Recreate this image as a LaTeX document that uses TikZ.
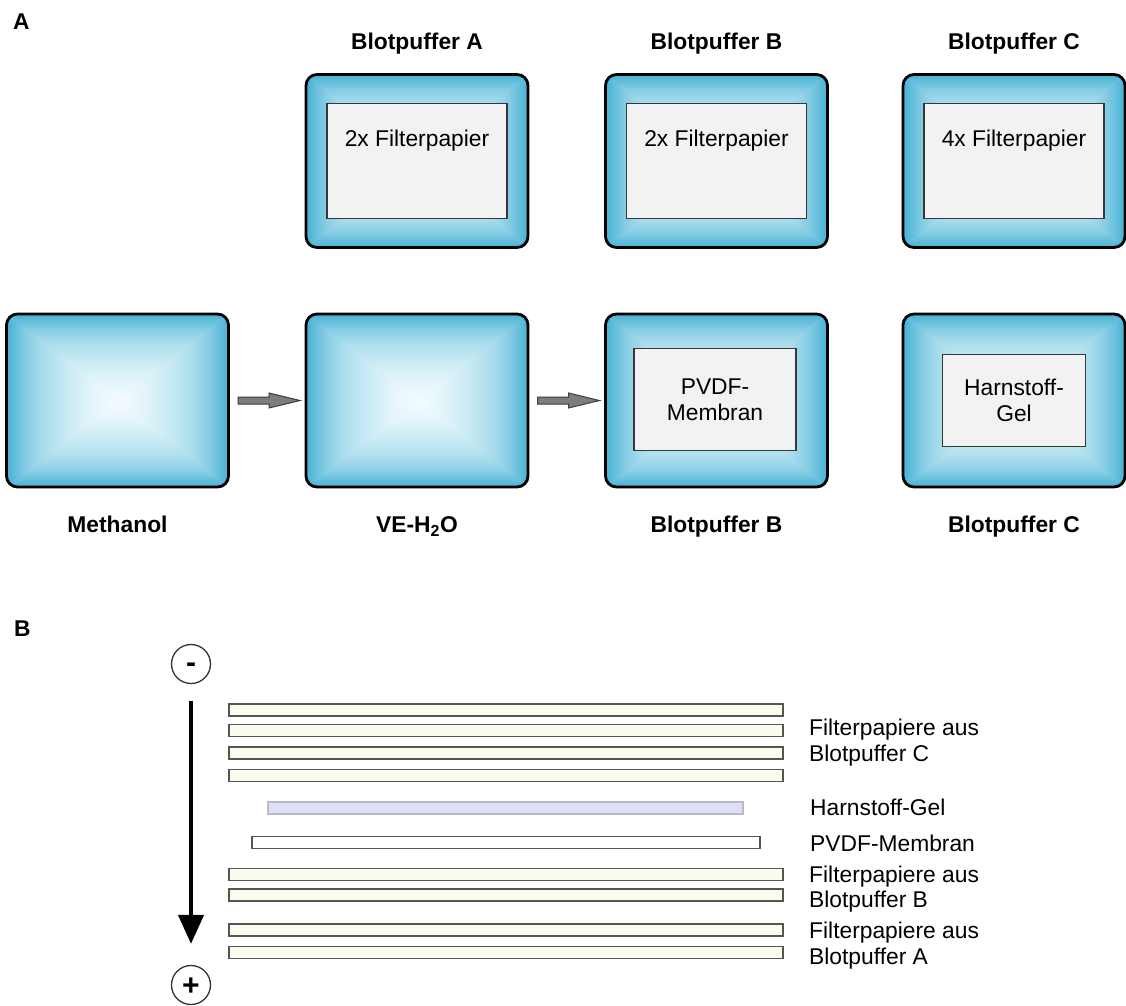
\documentclass[tikz,border=0pt]{standalone}
\usepackage{fontspec}
\setmainfont{Liberation Sans}
\usetikzlibrary{arrows.meta,calc}
\definecolor{trayedge}{RGB}{70,178,211}
\definecolor{trayA}{RGB}{100,190,220}
\definecolor{trayB}{RGB}{135,205,228}
\definecolor{trayC}{RGB}{168,220,236}
\definecolor{trayD}{RGB}{195,232,243}
\definecolor{trayE}{RGB}{225,244,250}
\definecolor{traycenter}{RGB}{247,252,254}
\definecolor{innerfill}{RGB}{242,242,242}
\definecolor{innerline}{RGB}{55,55,55}
\definecolor{arrowfill}{RGB}{125,125,125}
\definecolor{arrowline}{RGB}{60,60,60}
\definecolor{barfill}{RGB}{252,252,238}
\definecolor{barline}{RGB}{85,85,85}
\definecolor{gelfill}{RGB}{221,224,248}
\definecolor{gelline}{RGB}{185,185,200}
\definecolor{circline}{RGB}{50,50,50}
% outer side of the tray = edge colour, middle of the tray = centre colour
\pgfdeclareverticalshading{traytop}{100bp}{color(0bp)=(traycenter); color(25bp)=(traycenter); color(37.5bp)=(trayE); color(50bp)=(trayD); color(59bp)=(trayC); color(66bp)=(trayB); color(71bp)=(trayA); color(75bp)=(trayedge); color(100bp)=(trayedge)}
\pgfdeclareverticalshading{traybot}{100bp}{color(0bp)=(trayedge); color(25bp)=(trayedge); color(29bp)=(trayA); color(34bp)=(trayB); color(41bp)=(trayC); color(50bp)=(trayD); color(62.5bp)=(trayE); color(75bp)=(traycenter); color(100bp)=(traycenter)}
\pgfdeclarehorizontalshading{trayleft}{100bp}{color(0bp)=(trayedge); color(25bp)=(trayedge); color(29bp)=(trayA); color(34bp)=(trayB); color(41bp)=(trayC); color(50bp)=(trayD); color(62.5bp)=(trayE); color(75bp)=(traycenter); color(100bp)=(traycenter)}
\pgfdeclarehorizontalshading{trayright}{100bp}{color(0bp)=(traycenter); color(25bp)=(traycenter); color(37.5bp)=(trayE); color(50bp)=(trayD); color(59bp)=(trayC); color(66bp)=(trayB); color(71bp)=(trayA); color(75bp)=(trayedge); color(100bp)=(trayedge)}
% pyramid-shaded tray drawn on the area of node #1
\newcommand{\trayfill}[1]{%
  \begin{scope}
    \clip[rounded corners=11pt] (#1.north west) rectangle (#1.south east);
    \fill[trayC] (#1.north west) rectangle (#1.south east);
    \shade[shading=traytop] (#1.north west) -- (#1.north east) -- (#1.center) -- cycle;
    \shade[shading=traybot] (#1.south west) -- (#1.south east) -- (#1.center) -- cycle;
    \shade[shading=trayleft] (#1.north west) -- (#1.south west) -- (#1.center) -- cycle;
    \shade[shading=trayright] (#1.north east) -- (#1.south east) -- (#1.center) -- cycle;
  \end{scope}
  \draw[trayborder] (#1.north west) rectangle (#1.south east);}
\newcommand{\blockarrow}[2]{%
  \coordinate (#1s) at ($(#1.east)+(9.5,0)$);
  \coordinate (#2e) at ($(#2.west)+(-6,0)$);
  \filldraw[grayarrow] ($(#1s)+(0,-3.5)$) -- ($(#2e)+(-31,-3.5)$) -- ($(#2e)+(-31,-7.5)$) -- (#2e) -- ($(#2e)+(-31,7.5)$) -- ($(#2e)+(-31,3.5)$) -- ($(#1s)+(0,3.5)$) -- cycle;}
\begin{document}
\begin{tikzpicture}[x=1pt,y=-1pt,
  every node/.style={font=\fontsize{22.8}{26}\selectfont},
  tray/.style={minimum width=222pt, minimum height=173pt, inner sep=0pt, outer sep=0pt},
  trayborder/.style={draw=black, line width=2.8pt, rounded corners=11pt},
  inner/.style={draw=innerline, fill=innerfill, line width=1.4pt, inner sep=0pt, align=center},
  lbl/.style={anchor=base, inner sep=0pt},
  blbl/.style={anchor=base, inner sep=0pt, font=\fontsize{22.8}{26}\selectfont\bfseries},
  grayarrow/.style={fill=arrowfill, draw=arrowline, line width=1pt, line join=miter},
  bar/.style={draw=barline, fill=barfill, line width=1.4pt, minimum height=12pt, inner sep=0pt},
  gelbar/.style={draw=gelline, fill=gelfill, line width=1.4pt, minimum height=12pt, inner sep=0pt},
  membar/.style={draw=barline, fill=white, line width=1.4pt, minimum height=12pt, inner sep=0pt},
  pm/.style={circle, draw=circline, line width=1.3pt, minimum size=39pt, inner sep=0pt, font=\fontsize{30}{30}\selectfont\bfseries},
  side/.style={anchor=base west, inner sep=0pt}
]
\useasboundingbox (0,0) rectangle (1126,1005);

% ---------- Part A ----------
\node[blbl, anchor=base west] (labA) at (13,29.5) {A};

% top row
\node[tray] (ta) at (417,161) {};
\node[tray] (tb) at (716.5,161) {};
\node[tray] (tc) at (1014,161) {};
\trayfill{ta}
\trayfill{tb}
\trayfill{tc}
\node[inner, minimum width=180pt, minimum height=115pt] (ia) at (ta.center) {};
\node[inner, minimum width=180pt, minimum height=115pt] (ib) at (tb.center) {};
\node[inner, minimum width=180pt, minimum height=115pt] (ic) at (tc.center) {};
\node[lbl] (fa) at ($(ia.north)+(0,44)$) {2x Filterpapier};
\node[lbl] (fb) at ($(ib.north)+(0,44)$) {2x Filterpapier};
\node[lbl] (fc) at ($(ic.north)+(0,44)$) {4x Filterpapier};
\node[blbl] (la) at ($(ta.north)+(0,-25.5)$) {Blotpuffer A};
\node[blbl] (lb) at ($(tb.north)+(0,-25.5)$) {Blotpuffer B};
\node[blbl] (lc) at ($(tc.north)+(0,-25.5)$) {Blotpuffer C};

% bottom row
\node[tray] (t1) at (117.5,400.5) {};
\node[tray] (t2) at (417,400.5) {};
\node[tray] (t3) at (716.5,400.5) {};
\node[tray] (t4) at (1014,400.5) {};
\trayfill{t1}
\trayfill{t2}
\trayfill{t3}
\trayfill{t4}
\node[inner, minimum width=162pt, minimum height=102pt] (pv) at ($(t3.center)+(-1.5,-1)$) {PVDF-\\Membran};
\node[inner, minimum width=143pt, minimum height=92pt] (hg) at (t4.center) {Harnstoff-\\Gel};
\node[blbl] (l1) at ($(t1.south)+(0,45.5)$) {Methanol};
\node[blbl] (l2) at ($(t2.south)+(0,45.5)$) {VE-H\textsubscript{2}O};
\node[blbl] (l3) at ($(t3.south)+(0,45.5)$) {Blotpuffer B};
\node[blbl] (l4) at ($(t4.south)+(0,45.5)$) {Blotpuffer C};

\blockarrow{t1}{t2}
\blockarrow{t2}{t3}

% ---------- Part B ----------
\node[blbl, anchor=base west] (labB) at (14,636) {B};

\node[pm, text height=16pt, text depth=0pt] (minus) at (191,664) {-};
\node[pm, text height=21pt, text depth=0pt] (plus) at (191,985) {+};
\draw[line width=4.3pt, -{Triangle[length=29pt,width=25pt]}] ($(minus.south)+(0,17)$) -- ($(plus.north)+(0,-21)$);

\node[bar, minimum width=554pt] (b1) at (506,710) {};
\node[bar, minimum width=554pt] (b2) at (506,730.7) {};
\node[bar, minimum width=554pt] (b3) at (506,753) {};
\node[bar, minimum width=554pt] (b4) at (506,775.3) {};
\node[gelbar, minimum width=475pt] (gel) at (505.5,808) {};
\node[membar, minimum width=508pt] (mem) at (506,842.7) {};
\node[bar, minimum width=554pt] (b5) at (506,874.3) {};
\node[bar, minimum width=554pt] (b6) at (506,895) {};
\node[bar, minimum width=554pt] (b7) at (506,930) {};
\node[bar, minimum width=554pt] (b8) at (506,952.3) {};

\node[side] (s1) at (809,735.5) {Filterpapiere aus};
\node[side] (s2) at (809,761.7) {Blotpuffer C};
\node[side] (s3) at (810,815) {Harnstoff-Gel};
\node[side] (s4) at (810,851.5) {PVDF-Membran};
\node[side] (s5) at (809,882.5) {Filterpapiere aus};
\node[side] (s6) at (809,907) {Blotpuffer B};
\node[side] (s7) at (809,938) {Filterpapiere aus};
\node[side] (s8) at (809,964) {Blotpuffer A};
\end{tikzpicture}
\end{document}
